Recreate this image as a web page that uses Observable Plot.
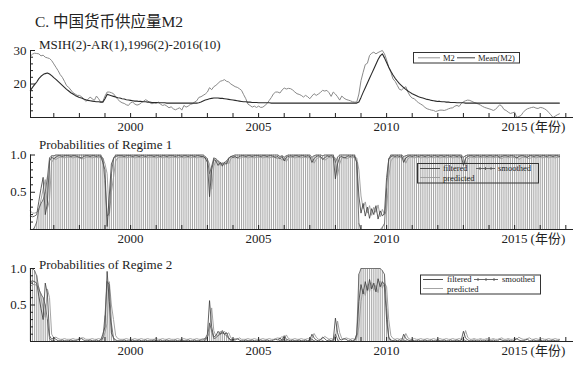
<!DOCTYPE html>
<html><head><meta charset="utf-8">
<script src="https://cdn.jsdelivr.net/npm/d3@7"></script>
<script src="https://cdn.jsdelivr.net/npm/@observablehq/plot@0.6"></script>
<style>
body{margin:0;background:#fff;}
#wrap{position:relative;width:580px;height:371px;overflow:hidden;background:#fff;}
#wrap svg{position:absolute;left:0;}
</style></head><body><div id="wrap"></div>
<script>
// ---------- DATA (monthly, 1996(2) - 2016(10)) ----------
const startYear = 1996, startMonth = 2;
const titleText = "C. 中国货币供应量M2";
const subtitleText = "MSIH(2)-AR(1),1996(2)-2016(10)";
const regimeTitles = ["Probabilities of Regime 1", "Probabilities of Regime 2"];
const yearLabels = [2000, 2005, 2010, 2015];
const yearTicks = [1997,1998,1999,2000,2001,2002,2003,2004,2005,2006,2007,2008,2009,2010,2011,2012,2013,2014,2015,2016,2017];
const unitLabel = "(年份)";
const m2Ticks = [20, 30];
const m2MinorTicks = [12, 14, 16, 18, 22, 24, 26, 28];
const probTicks = [0.5, 1.0];
const probMinorTicks = [0.1, 0.2, 0.3, 0.4, 0.6, 0.7, 0.8, 0.9];

const M2 = [
 28.3,28.9,29.2,29.1,29.0,28.4,28.6,28.0,27.8,27.6,27.0,
 26.0,25.0,24.0,22.8,22.0,20.8,19.5,19.0,18.2,17.4,17.0,16.6,
 16.6,16.2,15.6,14.8,15.4,16.1,15.6,15.1,16.4,15.6,14.6,14.8,
 16.4,17.6,17.6,17.4,17.1,16.2,15.4,14.8,14.4,14.2,13.8,13.6,
 14.4,14.6,14.0,13.7,13.9,14.4,14.8,15.3,15.0,14.4,14.1,14.3,
 14.2,14.6,14.0,13.6,13.8,13.4,12.9,13.2,12.6,12.3,12.6,12.9,
 12.2,13.6,13.1,13.4,13.9,14.1,14.6,15.0,16.0,16.2,16.6,17.0,
 17.6,18.9,18.3,19.2,19.6,20.2,20.8,21.0,21.3,20.8,20.6,20.0,
 19.6,19.2,19.0,18.6,18.1,16.8,15.6,14.0,13.6,13.1,13.4,13.0,
 13.4,13.0,13.1,13.6,14.2,15.1,16.0,17.1,17.6,17.6,17.3,18.2,
 18.8,18.5,18.7,18.6,18.2,17.6,17.1,16.9,16.6,16.1,16.6,16.2,
 15.6,16.4,17.1,16.6,17.0,17.5,18.1,17.9,18.1,17.4,16.3,17.6,
 17.0,16.2,15.2,16.4,15.8,15.4,15.2,15.0,14.7,14.6,14.6,17.0,
 21.0,23.5,25.8,26.2,28.5,29.2,29.5,29.0,29.4,29.7,30.0,29.0,
 27.2,25.0,23.5,21.5,20.8,19.6,18.4,18.2,18.8,19.2,17.6,16.4,
 15.8,15.6,14.9,14.4,14.0,13.6,13.0,12.6,12.4,12.2,12.1,11.8,
 12.0,12.2,12.2,12.1,12.3,12.6,12.8,12.9,13.4,13.6,13.3,14.2,
 14.7,15.0,15.2,15.1,14.8,14.5,14.3,14.0,13.7,13.3,13.0,12.8,
 12.6,12.4,12.1,12.4,13.1,13.8,13.4,12.4,12.1,11.6,11.2,11.4,
 11.6,10.0,10.3,10.6,11.5,12.2,12.6,12.8,13.0,13.1,12.8,12.7,
 13.0,12.9,12.6,12.2,11.5,10.8,10.0,10.4,10.8,11.1
];
const meanM2 = [
 18.0,19.0,19.8,20.6,21.6,22.3,22.8,23.1,23.3,23.0,22.5,
 21.9,21.4,20.8,20.2,19.6,19.0,18.4,17.9,17.4,17.0,16.6,16.3,
 16.0,15.8,15.5,15.3,15.1,15.0,14.9,14.8,14.7,14.7,14.6,14.6,
 15.6,16.9,16.7,16.5,16.3,16.1,15.9,15.8,15.6,15.5,15.3,15.2,
 15.1,15.0,14.9,14.9,14.8,14.8,14.7,14.7,14.6,14.6,14.5,14.5,
 14.5,14.4,14.4,14.4,14.4,14.3,14.3,14.3,14.3,14.3,14.3,14.3,
 14.3,14.3,14.3,14.3,14.3,14.3,14.3,14.3,14.4,14.6,14.9,15.2,
 15.4,15.6,15.7,15.8,15.8,15.8,15.7,15.7,15.6,15.5,15.4,15.3,
 15.2,15.1,15.0,14.9,14.8,14.7,14.7,14.6,14.6,14.5,14.5,14.5,
 14.4,14.4,14.4,14.4,14.4,14.4,14.3,14.3,14.3,14.3,14.3,14.3,
 14.3,14.3,14.3,14.3,14.3,14.3,14.3,14.3,14.3,14.3,14.3,14.3,
 14.3,14.3,14.3,14.3,14.3,14.3,14.3,14.3,14.3,14.3,14.3,14.3,
 14.3,14.3,14.3,14.3,14.3,14.3,14.3,14.3,14.3,14.3,14.3,14.6,
 16.0,17.5,18.9,20.3,21.7,23.1,24.5,25.9,27.3,28.4,29.0,27.8,
 26.4,25.0,23.8,22.7,21.7,20.9,20.1,19.5,18.9,18.4,17.9,17.5,
 17.1,16.8,16.5,16.2,16.0,15.8,15.6,15.4,15.3,15.1,15.0,14.9,
 14.8,14.8,14.7,14.7,14.6,14.6,14.5,14.5,14.5,14.4,14.4,14.4,
 14.4,14.3,14.3,14.3,14.3,14.3,14.3,14.3,14.3,14.3,14.3,14.3,
 14.3,14.3,14.3,14.3,14.3,14.3,14.3,14.3,14.3,14.3,14.3,14.3,
 14.3,14.3,14.3,14.3,14.3,14.3,14.3,14.3,14.3,14.3,14.3,14.3,
 14.3,14.3,14.3,14.3,14.3,14.3,14.3,14.3,14.3,14.3
];
// Regime 2 probabilities (regime 1 = 1 - regime 2)
const smoothed2 = [
 1.0,1.0,0.97,0.9,0.72,0.65,0.6,0.5,0.3,0.04,0.01,
 0.01,0,0,0,0,0,0,0,0,0,0,0,
 0,0,0,0,0,0,0,0,0,0,0,0.05,
 0.35,0.82,0.78,0.25,0.04,0,0,0,0,0,0,0,
 0,0,0,0,0,0,0,0,0,0,0,0,
 0,0,0,0,0,0,0,0,0,0,0,0,
 0,0,0,0,0,0,0,0,0,0,0,0.02,
 0.05,0.25,0.15,0.04,0.05,0.08,0.1,0.12,0.1,0.08,0.04,0.02,
 0.01,0,0,0,0,0,0,0,0,0,0,0,
 0,0,0,0,0,0,0,0,0,0,0.02,0.01,
 0.03,0.01,0,0,0,0,0,0,0,0,0,0,
 0,0.03,0.01,0,0,0,0.01,0,0,0,0,0,
 0.1,0.03,0,0,0,0,0,0,0,0,0.1,0.92,
 1,1,1,1,1,1,1,1,1,1,0.97,0.92,
 0.45,0.05,0,0,0,0,0,0,0.02,0.01,0,0,
 0,0,0,0,0,0,0,0,0,0,0,0,
 0,0,0,0,0,0,0,0,0,0,0,0,
 0.03,0.01,0,0,0,0,0,0,0,0,0,0,
 0,0,0,0,0,0,0,0,0,0,0,0,
 0,0,0,0,0,0,0,0,0,0,0,0,
 0,0,0,0,0,0,0,0,0,0
];
const filtered2 = [
 0.82,0.83,0.82,0.8,0.62,0.45,0.3,0.8,0.65,0.08,0.03,
 0.05,0.03,0.01,0.01,0.02,0.01,0.01,0.01,0.02,0.01,0.01,0.02,
 0.03,0.04,0.02,0.01,0.01,0.02,0.01,0.01,0.02,0.01,0.02,0.1,
 0.2,0.96,0.55,0.12,0.05,0.02,0.01,0.01,0.01,0.02,0.01,0.01,
 0.01,0.02,0.01,0.01,0.02,0.01,0.01,0.02,0.01,0.01,0.01,0.02,
 0.01,0.01,0.02,0.01,0.01,0.02,0.01,0.01,0.01,0.02,0.01,0.01,
 0.02,0.01,0.01,0.02,0.01,0.01,0.02,0.01,0.01,0.02,0.02,0.04,
 0.1,0.56,0.2,0.06,0.08,0.14,0.1,0.15,0.1,0.12,0.05,0.02,
 0.03,0.02,0.04,0.02,0.01,0.01,0.02,0.01,0.01,0.02,0.01,0.01,
 0.01,0.02,0.01,0.01,0.02,0.01,0.01,0.02,0.03,0.02,0.05,0.02,
 0.08,0.03,0.02,0.01,0.02,0.01,0.01,0.02,0.01,0.01,0.02,0.01,
 0.02,0.1,0.05,0.02,0.01,0.02,0.06,0.04,0.01,0.02,0.01,0.02,
 0.32,0.12,0.03,0.02,0.04,0.03,0.01,0.02,0.01,0.02,0.1,0.55,
 0.78,0.65,0.82,0.7,0.85,0.72,0.8,0.68,0.86,0.75,0.82,0.78,
 0.3,0.06,0.02,0.01,0.02,0.01,0.02,0.01,0.1,0.04,0.02,0.01,
 0.02,0.01,0.01,0.02,0.01,0.01,0.02,0.01,0.01,0.02,0.01,0.01,
 0.02,0.01,0.01,0.02,0.01,0.01,0.02,0.01,0.01,0.02,0.01,0.02,
 0.14,0.05,0.02,0.01,0.01,0.02,0.01,0.01,0.02,0.01,0.01,0.02,
 0.01,0.01,0.02,0.01,0.01,0.03,0.02,0.01,0.01,0.02,0.01,0.01,
 0.02,0.04,0.02,0.01,0.01,0.02,0.03,0.01,0.01,0.02,0.01,0.01,
 0.02,0.01,0.01,0.02,0.01,0.01,0.02,0.01,0.01,0.02
];
const predicted2 = [
 0.75,0.78,0.78,0.77,0.74,0.6,0.46,0.33,0.72,0.6,0.1,
 0.05,0.06,0.04,0.03,0.03,0.04,0.03,0.03,0.03,0.04,0.03,0.03,
 0.04,0.05,0.05,0.03,0.03,0.03,0.04,0.03,0.03,0.04,0.03,0.04,
 0.12,0.25,0.82,0.5,0.3,0.08,0.04,0.03,0.03,0.03,0.04,0.03,
 0.03,0.03,0.04,0.03,0.03,0.04,0.03,0.03,0.04,0.03,0.03,0.03,
 0.04,0.03,0.03,0.04,0.03,0.03,0.04,0.03,0.03,0.03,0.04,0.03,
 0.03,0.04,0.03,0.03,0.04,0.03,0.03,0.04,0.03,0.03,0.04,0.04,
 0.06,0.12,0.46,0.15,0.07,0.09,0.14,0.1,0.14,0.1,0.12,0.05,
 0.03,0.04,0.03,0.05,0.03,0.03,0.03,0.04,0.03,0.03,0.04,0.03,
 0.03,0.03,0.04,0.03,0.03,0.04,0.03,0.03,0.04,0.05,0.04,0.07,
 0.04,0.09,0.04,0.03,0.03,0.04,0.03,0.03,0.04,0.03,0.03,0.04,
 0.03,0.04,0.11,0.06,0.03,0.03,0.04,0.07,0.05,0.03,0.04,0.03,
 0.04,0.28,0.12,0.04,0.03,0.05,0.04,0.03,0.04,0.03,0.04,0.2,
 0.55,0.72,0.63,0.78,0.68,0.81,0.7,0.77,0.67,0.83,0.73,0.8,
 0.75,0.3,0.08,0.04,0.03,0.04,0.03,0.04,0.03,0.11,0.05,0.03,
 0.03,0.04,0.03,0.03,0.04,0.03,0.03,0.04,0.03,0.03,0.04,0.03,
 0.03,0.04,0.03,0.03,0.04,0.03,0.03,0.04,0.03,0.03,0.04,0.03,
 0.04,0.15,0.06,0.03,0.03,0.04,0.03,0.03,0.04,0.03,0.03,0.04,
 0.03,0.03,0.04,0.03,0.03,0.04,0.05,0.03,0.03,0.04,0.03,0.03,
 0.04,0.03,0.06,0.04,0.03,0.03,0.04,0.05,0.03,0.03,0.04,0.03,
 0.03,0.04,0.03,0.03,0.04,0.03,0.03,0.04,0.03,0.03
];

// ---------- TABLES ----------
const rows = M2.map((v, i) => ({
  t: startYear + (startMonth - 1 + i) / 12,
  m2: v, mean: meanM2[i],
  s2: smoothed2[i], f2: filtered2[i], p2: predicted2[i],
  s1: 1 - smoothed2[i], f1: 1 - filtered2[i], p1: 1 - predicted2[i]
}));

// ---------- LAYOUT ----------
const SERIF = '"Liberation Serif","Times New Roman",serif';
const MIX = '"Liberation Serif","Noto Sans CJK SC",serif';
const X0 = 1996.09, X1 = 2017.3;
const wrap = document.getElementById("wrap");
const fmtYear = d3.format("d");

function frameMarks(ymin, yticks, yminor, yfmt) {
  return [
    Plot.ruleX([X0], {stroke: "#222", strokeWidth: 1}),
    Plot.ruleY([ymin], {stroke: "#222", strokeWidth: 1}),
    Plot.axisX({ticks: yearLabels, tickSize: 0, tickPadding: 4, tickFormat: fmtYear, label: null, fontSize: 13, fontFamily: SERIF, fill: "#222"}),
    Plot.axisX({ticks: yearTicks, tickSize: 4, dy: -4, tickFormat: () => "", label: null, stroke: "#222"}),
    Plot.text([unitLabel], {x: () => yearLabels[yearLabels.length - 1], text: d => d, frameAnchor: "bottom", lineAnchor: "top", textAnchor: "start", dx: 16, dy: 4, fontSize: 13, fontFamily: MIX, fill: "#222"}),
    Plot.axisY({ticks: yticks, tickSize: 0, tickPadding: 4, tickFormat: yfmt, label: null, fontSize: 13, fontFamily: SERIF, fill: "#222"}),
    Plot.axisY({ticks: yticks, tickSize: 5, dx: 5, tickFormat: () => "", label: null, stroke: "#222"}),
    Plot.axisY({ticks: yminor, tickSize: 3, dx: 3, tickFormat: () => "", label: null, stroke: "#222"})
  ];
}

function mount(svg, top) { svg.style.top = top + "px"; wrap.appendChild(svg); }

// Panel 1: M2 and Mean(M2)
mount(Plot.plot({
  width: 580, height: 135, marginLeft: 30, marginRight: 7, marginTop: 50, marginBottom: 18,
  x: {domain: [X0, X1], label: null}, y: {domain: [10, 30], label: null},
  style: {background: "transparent", fontFamily: SERIF, fontSize: "13px", overflow: "visible"},
  marks: [
    Plot.line(rows, {x: "t", y: "m2", stroke: "#8a8a8a", strokeWidth: 1}),
    Plot.line(rows, {x: "t", y: "mean", stroke: "#2a2a2a", strokeWidth: 1.1}),
    ...frameMarks(10, m2Ticks, m2MinorTicks, d3.format("d"))
  ]
}), 0);

function probPanel(top, height, mt, mb, s, f, p) {
  return Plot.plot({
    width: 580, height, marginLeft: 30, marginRight: 7, marginTop: mt, marginBottom: mb,
    x: {domain: [X0, X1], label: null}, y: {domain: [0, 1], label: null},
    style: {background: "transparent", fontFamily: SERIF, fontSize: "13px", overflow: "visible"},
    marks: [
      Plot.ruleX(rows, {x: "t", y1: 0, y2: s, stroke: "#a8a8a8", strokeWidth: 1.1}),
      Plot.line(rows, {x: "t", y: p, stroke: "#9a9a9a", strokeWidth: 0.9}),
      Plot.line(rows, {x: "t", y: f, stroke: "#3a3a3a", strokeWidth: 0.8}),
      Plot.line(rows, {x: "t", y: s, stroke: "#555", strokeWidth: 0.8}),
      ...frameMarks(0, probTicks, probMinorTicks, d3.format(".1f"))
    ]
  });
}
mount(probPanel(130, 120, 24.5, 21, "s1", "f1", "p1"), 130);
mount(probPanel(245, 126, 23, 30, "s2", "f2", "p2"), 245);

// ---------- OVERLAY: titles and legends ----------
const ov = d3.select(wrap).append("svg").attr("width", 580).attr("height", 371)
  .style("top", "0px").style("pointer-events", "none");
ov.append("text").attr("x", 35).attr("y", 27).attr("font-size", 15.5).attr("font-family", MIX).attr("fill", "#222").text(titleText);
ov.append("text").attr("x", 39).attr("y", 48.5).attr("font-size", 13).attr("font-family", SERIF).attr("fill", "#222").text(subtitleText);
ov.append("text").attr("x", 39).attr("y", 148.5).attr("font-size", 13).attr("font-family", SERIF).attr("fill", "#222").text(regimeTitles[0]);
ov.append("text").attr("x", 39).attr("y", 268.5).attr("font-size", 13).attr("font-family", SERIF).attr("fill", "#222").text(regimeTitles[1]);

function legendLine(x1, x2, y, color, dots) {
  ov.append("line").attr("x1", x1).attr("x2", x2).attr("y1", y).attr("y2", y).attr("stroke", color).attr("stroke-width", 0.9);
  if (dots) [x1 + 4, (x1 + x2) / 2, x2 - 4].forEach(cx =>
    ov.append("line").attr("x1", cx).attr("x2", cx).attr("y1", y - 1.5).attr("y2", y + 1.5).attr("stroke", color).attr("stroke-width", 0.9));
}
function legendText(x, y, s) {
  ov.append("text").attr("x", x).attr("y", y).attr("font-size", 8.5).attr("font-family", SERIF).attr("fill", "#222").text(s);
}
function box(x, y, w, h) {
  ov.append("rect").attr("x", x).attr("y", y).attr("width", w).attr("height", h).attr("fill", "none").attr("stroke", "#333").attr("stroke-width", 1);
}
// top legend
box(413.5, 52.5, 106, 10.5);
legendLine(418, 440, 57.8, "#8a8a8a"); legendText(443, 60.8, "M2");
legendLine(457, 475, 57.8, "#2a2a2a"); legendText(478, 60.8, "Mean(M2)");
// middle legend
box(417.5, 163.5, 121, 19.5);
legendLine(420, 440, 168.5, "#3a3a3a"); legendText(443, 171.2, "filtered");
legendLine(420, 440, 177.5, "#9a9a9a"); legendText(443, 180.6, "predicted");
legendLine(476, 495, 168.5, "#555", true); legendText(498, 171.2, "smoothed");
// bottom legend
box(420.5, 275, 120, 19);
legendLine(423, 443, 279.5, "#3a3a3a"); legendText(447, 282.2, "filtered");
legendLine(423, 443, 288.5, "#9a9a9a"); legendText(447, 291.6, "predicted");
legendLine(474, 498, 279.5, "#555", true); legendText(502, 282.2, "smoothed");
</script></body></html>
